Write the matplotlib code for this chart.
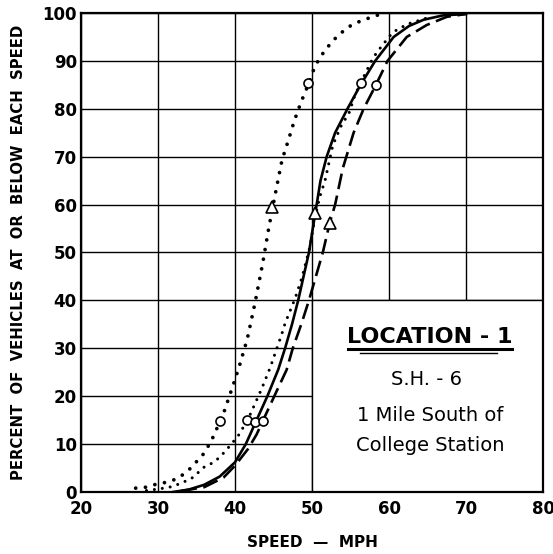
import numpy as np
import matplotlib
matplotlib.use("Agg")
import matplotlib.pyplot as plt
from matplotlib.patches import Rectangle

# speed (mph) / cumulative percent
dot_a_speed = [27.1, 28.5, 29.5, 31.0, 32.4, 33.4, 34.4, 35.2, 36.0, 36.6, 37.1, 37.6, 38.4,
               39.1, 39.9, 40.6, 41.6, 42.6, 43.6, 44.4, 45.3, 46.1, 46.9, 47.7, 48.6,
               49.5, 50.4, 51.7, 53.4, 55.3, 57.8, 59.0]
dot_a_pct = [0.8, 1.0, 1.5, 2.0, 2.7, 3.8, 5.2, 6.7, 8.1, 9.8, 11.3, 13.1, 15.9,
             19.2, 23.0, 26.5, 32.0, 39.5, 47.8, 55.3, 62.8, 69.3, 73.3, 77.5, 81.5,
             85.0, 89.0, 92.3, 95.4, 97.7, 99.2, 99.8]

dot_b_speed = [28.5, 30.0, 31.5, 33.0, 34.5, 36.0, 37.0, 38.0, 39.0, 40.4, 41.7, 43.5,
               44.6, 46.1, 46.5, 47.8, 48.7, 49.7, 50.4, 51.0, 51.7, 52.7, 53.8, 54.8,
               55.6, 56.5, 57.9, 59.0, 60.5, 62.4, 64.0, 65.0]
dot_b_pct = [0.3, 0.6, 1.0, 1.8, 3.0, 5.2, 6.0, 7.2, 9.0, 11.7, 15.2, 21.7,
             26.1, 33.1, 35.2, 40.4, 44.8, 51.0, 57.4, 61.6, 65.1, 72.4, 76.5, 79.1,
             83.0, 86.0, 90.6, 93.0, 96.0, 97.7, 98.5, 99.0]

solid_speed = [32.0, 34.0, 36.0, 38.0, 40.0, 41.4, 42.8, 44.2, 45.6, 46.5, 47.4, 48.2,
               48.9, 49.6, 50.1, 50.6, 51.1, 51.9, 53.0, 54.6, 56.3, 58.2, 60.6, 62.6,
               64.5, 67.0, 70.0]
solid_pct = [0.0, 0.5, 1.5, 3.2, 6.2, 10.0, 15.0, 20.0, 25.5, 30.0, 35.0, 40.0,
             45.0, 50.0, 55.0, 60.0, 65.0, 70.0, 75.0, 80.0, 85.0, 90.0, 95.0, 97.3,
             98.6, 99.5, 99.8]

dash_speed = [33.0, 36.0, 38.5, 40.0, 41.7, 42.8, 43.6, 45.1, 46.7, 47.5, 48.6, 49.6,
              50.5, 51.4, 52.3, 53.0, 54.0, 55.4, 56.7, 58.3, 59.8, 62.3, 64.9, 67.5, 70.0]
dash_pct = [0.2, 1.0, 3.0, 5.5, 9.0, 12.0, 14.8, 20.0, 25.5, 30.0, 35.0, 40.0,
            45.0, 50.0, 56.2, 60.0, 67.6, 75.0, 80.0, 85.0, 90.0, 95.0, 97.5, 99.2, 99.8]

circle_speed = [38.1, 41.5, 42.6, 43.6, 49.5, 56.4, 58.3]
circle_pct = [14.8, 15.0, 14.7, 14.8, 85.3, 85.3, 85.0]
tri_speed = [44.8, 50.4, 52.3]
tri_pct = [59.5, 58.2, 56.2]

fig = plt.figure(figsize=(5.53, 5.54), dpi=100)
ax = fig.add_axes([0.1465, 0.112, 0.8355, 0.8645])

ax.set_xlim(20, 80)
ax.set_ylim(0, 100)
ax.set_xticks(np.arange(20, 81, 10))
ax.set_yticks(np.arange(0, 101, 10))
ax.grid(True, color="black", linewidth=1.0)
ax.set_axisbelow(True)
for s in ax.spines.values():
    s.set_linewidth(1.6)
ax.tick_params(length=0, labelsize=12)
ax.tick_params(axis="x", pad=6)
ax.tick_params(axis="y", pad=3)
for lab in ax.get_xticklabels() + ax.get_yticklabels():
    lab.set_fontweight("bold")

# location box covers the lower right of the grid
ax.add_patch(Rectangle((50, 0), 30, 40, facecolor="white", edgecolor="black",
                       linewidth=1.0, zorder=1))

ax.plot(dot_a_speed, dot_a_pct, color="black", linewidth=2.7,
        linestyle=(0, (0.01, 2.6)), dash_capstyle="round", zorder=3)
ax.plot(dot_b_speed, dot_b_pct, color="black", linewidth=2.2,
        linestyle=(0, (0.01, 2.6)), dash_capstyle="round", zorder=3)
ax.plot(solid_speed, solid_pct, color="black", linewidth=1.9, zorder=3)
ax.plot(dash_speed, dash_pct, color="black", linewidth=1.9,
        linestyle=(0, (6, 2.5)), zorder=3)

ax.plot(circle_speed, circle_pct, linestyle="none", marker="o", markersize=6.5,
        markerfacecolor="white", markeredgecolor="black", markeredgewidth=1.2, zorder=4)
ax.plot(tri_speed, tri_pct, linestyle="none", marker="^", markersize=8,
        markerfacecolor="white", markeredgecolor="black", markeredgewidth=1.2, zorder=4)

ax.text(65.3, 32.4, "LOCATION - 1", ha="center", va="center", fontsize=16,
        fontweight="bold", zorder=5)
ax.plot([54.7, 76.0], [29.9, 29.9], color="black", linewidth=2.2, zorder=5)
ax.plot([56.2, 74.0], [29.1, 29.1], color="black", linewidth=1.0, zorder=5)
ax.text(64.9, 23.4, "S.H. - 6", ha="center", va="center", fontsize=14, zorder=5)
ax.text(65.3, 16.0, "1 Mile South of", ha="center", va="center", fontsize=14, zorder=5)
ax.text(65.3, 9.8, "College Station", ha="center", va="center", fontsize=14, zorder=5)

ax.set_xlabel("SPEED  \u2014  MPH", fontsize=11, fontweight="bold", labelpad=12)
ax.set_ylabel("PERCENT  OF  VEHICLES  AT  OR  BELOW  EACH  SPEED", fontsize=10.7,
              fontweight="bold", labelpad=12)

fig.savefig("out.png", dpi=100)
